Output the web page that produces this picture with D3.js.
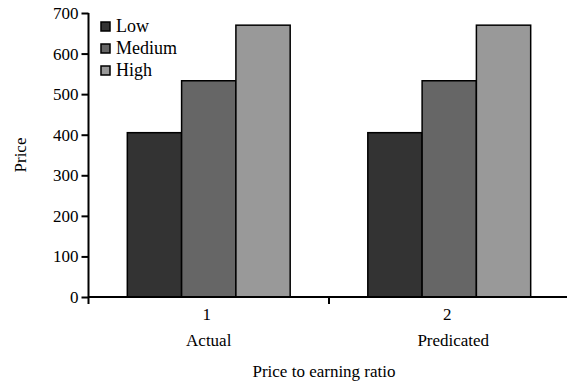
<!DOCTYPE html>
<html>
<head>
<meta charset="utf-8">
<script src="https://cdn.jsdelivr.net/npm/d3@7"></script>
<style>
  body { margin: 0; background: #fff; }
</style>
</head>
<body>
<div id="chart"></div>
<script>
// Data
const categories = ["1", "2"];
const categoryNames = ["Actual", "Predicated"];
const series = ["Low", "Medium", "High"];
const lowValues = [405, 405];
const mediumValues = [533, 533];
const highValues = [670, 670];
const yTicks = [0, 100, 200, 300, 400, 500, 600, 700];

const colors = { Low: "#333333", Medium: "#666666", High: "#999999" };
const valuesBySeries = { Low: lowValues, Medium: mediumValues, High: highValues };
const serif = "'Liberation Serif', 'Times New Roman', 'DejaVu Serif', serif";

const width = 567, height = 385;
const plotLeft = 88.5, plotRight = 569.5, plotTop = 13, plotBottom = 297;

const svg = d3.select("#chart").append("svg")
  .attr("width", width)
  .attr("height", height)
  .attr("font-family", serif);

const x0 = d3.scaleBand().domain(categories).range([plotLeft, plotRight]).padding(0);
const x1 = d3.scaleBand().domain(series).range([0, x0.bandwidth()])
  .paddingInner(0).paddingOuter(0.715);
const y = d3.scaleLinear().domain([0, 700]).range([plotBottom, plotTop]);

// Bars
const groups = svg.append("g").selectAll("g")
  .data(categories)
  .enter().append("g")
  .attr("transform", d => `translate(${x0(d)},0)`);

groups.selectAll("rect")
  .data((d, i) => series.map(s => ({ s, v: valuesBySeries[s][i] })))
  .enter().append("rect")
  .attr("x", d => x1(d.s))
  .attr("y", d => y(d.v))
  .attr("width", x1.bandwidth())
  .attr("height", d => y(0) - y(d.v))
  .attr("fill", d => colors[d.s])
  .attr("stroke", "#000")
  .attr("stroke-width", 1.5);

// Y axis
const yAxis = svg.append("g")
  .attr("transform", `translate(${plotLeft},0)`)
  .call(d3.axisLeft(y).tickValues(yTicks).tickSize(7).tickPadding(3));
yAxis.attr("font-family", serif).attr("font-size", 17);
yAxis.select(".domain").attr("stroke-width", 2).attr("d", `M0,${plotTop}V${plotBottom}`);
yAxis.selectAll(".tick line").attr("stroke-width", 2);

// X axis with ticks at category boundaries
const xAxis = svg.append("g").attr("transform", `translate(0,${plotBottom})`)
  .attr("font-size", 17);
xAxis.append("line")
  .attr("x1", plotLeft).attr("x2", width)
  .attr("stroke", "#000").attr("stroke-width", 2);
xAxis.selectAll(".bound")
  .data(categories)
  .enter().append("line")
  .attr("x1", d => x0(d)).attr("x2", d => x0(d))
  .attr("y1", 0).attr("y2", 7)
  .attr("stroke", "#000").attr("stroke-width", 2);
xAxis.selectAll(".num")
  .data(categories)
  .enter().append("text")
  .attr("x", d => x0(d) + x0.bandwidth() / 2 - 2)
  .attr("y", 23)
  .attr("text-anchor", "middle")
  .text(d => d);
xAxis.selectAll(".name")
  .data(categories)
  .enter().append("text")
  .attr("x", (d, i) => x0(d) + x0.bandwidth() / 2 + i * 4)
  .attr("y", 49)
  .attr("text-anchor", "middle")
  .text((d, i) => categoryNames[i]);

// Axis titles
svg.append("text")
  .attr("x", 324)
  .attr("y", 377)
  .attr("text-anchor", "middle")
  .attr("font-size", 17)
  .text("Price to earning ratio");

svg.append("text")
  .attr("transform", `translate(26,${(plotTop + plotBottom) / 2}) rotate(-90)`)
  .attr("text-anchor", "middle")
  .attr("font-size", 17)
  .text("Price");

// Legend
const legend = svg.append("g").selectAll("g")
  .data(series)
  .enter().append("g")
  .attr("transform", (d, i) => `translate(101,${22 + i * 22})`);
legend.append("rect")
  .attr("width", 9).attr("height", 9)
  .attr("fill", d => colors[d])
  .attr("stroke", "#000").attr("stroke-width", 1.5);
legend.append("text")
  .attr("x", 15).attr("y", 10)
  .attr("font-size", 18)
  .text(d => d);
</script>
</body>
</html>
